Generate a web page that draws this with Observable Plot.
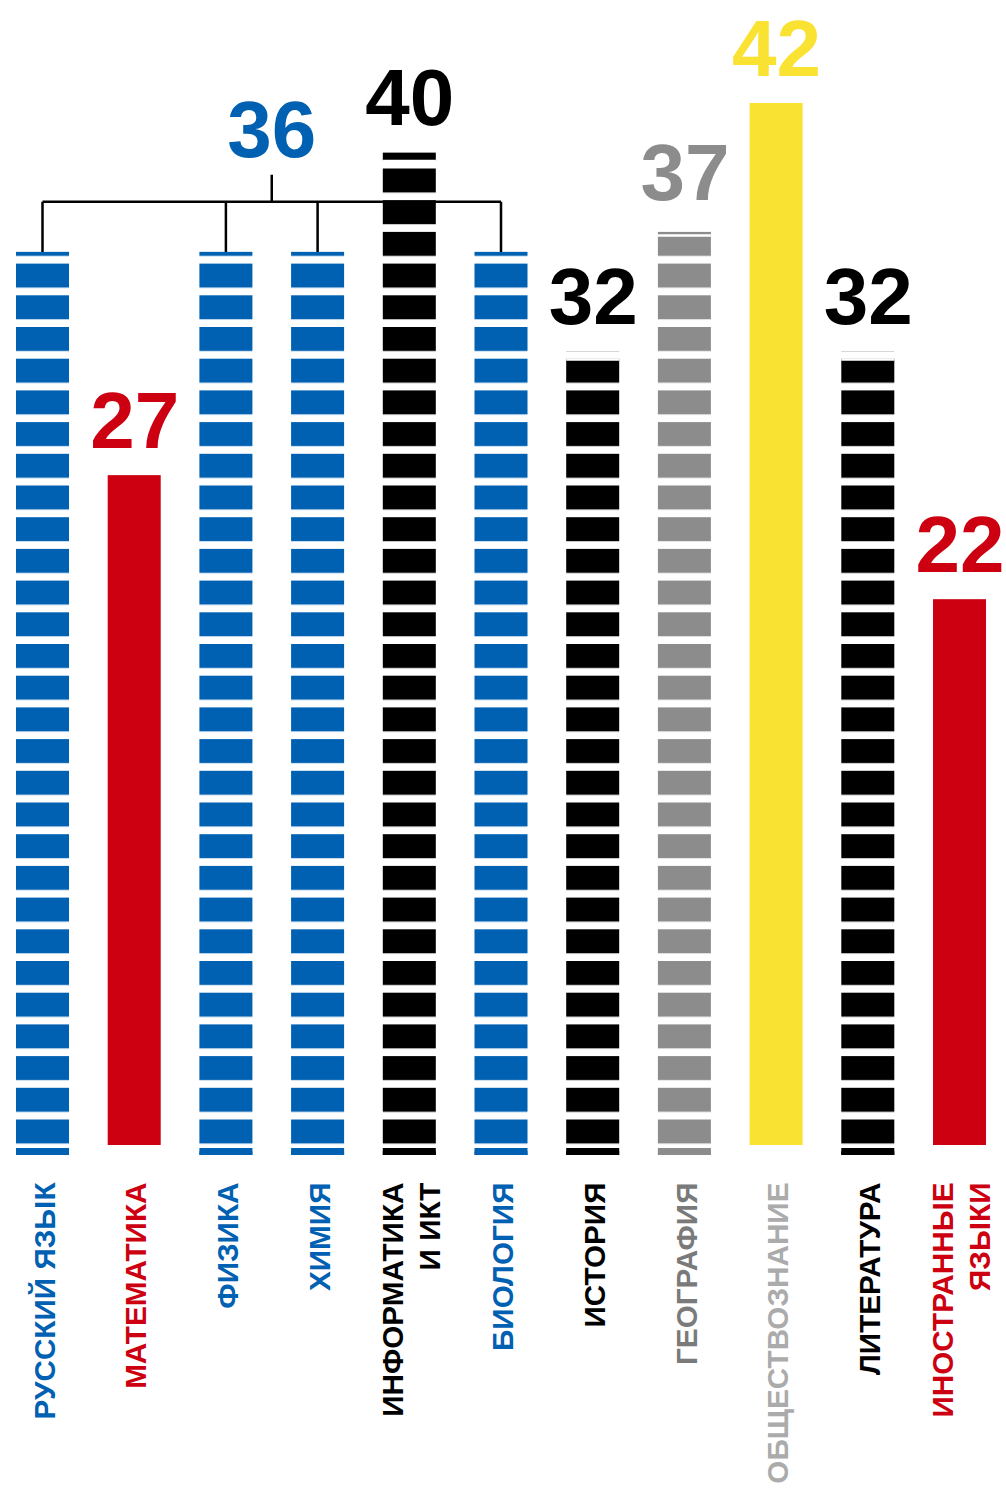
<!DOCTYPE html>
<html>
<head>
<meta charset="utf-8">
<script src="https://cdn.jsdelivr.net/npm/d3@7"></script>
<script src="https://cdn.jsdelivr.net/npm/@observablehq/plot@0.6"></script>
<style>
  html, body { margin: 0; padding: 0; background: #ffffff; }
  #chart svg { display: block; }
</style>
</head>
<body>
<div id="chart"></div>
<script>
// ---- data ----
const subjects = [
  "РУССКИЙ ЯЗЫК", "МАТЕМАТИКА", "ФИЗИКА", "ХИМИЯ", "ИНФОРМАТИКА\nИ ИКТ", "БИОЛОГИЯ",
  "ИСТОРИЯ", "ГЕОГРАФИЯ", "ОБЩЕСТВОЗНАНИЕ", "ЛИТЕРАТУРА", "ИНОСТРАННЫЕ\nЯЗЫКИ"
];
const scores = [36, 27, 36, 36, 40, 36, 32, 37, 42, 32, 22];
const barColors = [
  "#0060b2", "#cc0010", "#0060b2", "#0060b2", "#000000", "#0060b2",
  "#000000", "#8c8c8c", "#fae232", "#000000", "#cc0010"
];
const labelColors = [
  "#0060b2", "#cc0010", "#0060b2", "#0060b2", "#000000", "#0060b2",
  "#000000", "#7a7a7a", "#ababab", "#000000", "#cc0010"
];
const striped = [true, false, true, true, true, true, true, true, false, true, false];
const groupedSubjects = ["РУССКИЙ ЯЗЫК", "ФИЗИКА", "ХИМИЯ", "БИОЛОГИЯ"];
const groupScore = 36;
const groupColor = "#0060b2";

const data = subjects.map((s, i) => ({
  subject: s, score: scores[i], bar: barColors[i], label: labelColors[i],
  striped: striped[i], grouped: groupedSubjects.includes(s)
}));

// ---- layout / style ----
const W = 1006, H = 1493;
const FONT = "Arial, 'Liberation Sans', sans-serif";
const PERIOD = 31.7, SEG = 24;
const stripedColors = Array.from(new Set(data.filter(d => d.striped).map(d => d.bar)));
const patternId = c => "stripe-" + c.replace("#", "");

const ns = "http://www.w3.org/2000/svg";
function el(tag, attrs) {
  const e = document.createElementNS(ns, tag);
  for (const k in attrs) e.setAttribute(k, attrs[k]);
  return e;
}

// defs (stripe patterns) + bracket for the grouped subjects, positioned with Plot's scales
function decorations(index, scales) {
  const x = scales.x, y = scales.y;
  const bw = x.bandwidth ? x.bandwidth() : 0;
  const g = el("g", {});
  const defs = el("defs", {});
  const y0 = y(0);
  for (const c of stripedColors) {
    const p = el("pattern", {id: patternId(c), patternUnits: "userSpaceOnUse",
      x: 0, y: y0 - 1.5 - SEG, width: W, height: PERIOD});
    p.appendChild(el("rect", {x: 0, y: 0, width: W, height: SEG, fill: c}));
    defs.appendChild(p);
  }
  g.appendChild(defs);

  const yTop = y(groupScore);
  const yBr = yTop - 50, yStem = yBr - 27;
  const xs = groupedSubjects.map(s => x(s) + bw / 2);
  const xMin = Math.min(...xs), xMax = Math.max(...xs), xMid = (xMin + xMax) / 2;
  let d = `M${xMin},${yBr}H${xMax}M${xMid},${yBr}V${yStem}`;
  for (const xv of xs) d += `M${xv},${yBr}V${yTop + 2}`;
  g.appendChild(el("path", {d, fill: "none", stroke: "#000", "stroke-width": 2.5}));
  const t = el("text", {x: xMid, y: yStem - 18, "text-anchor": "middle",
    "font-size": 80, "font-weight": "bold", "font-family": FONT, fill: groupColor});
  t.textContent = String(groupScore);
  g.appendChild(t);
  return g;
}

const stripedData = data.filter(d => d.striped);
const solidData = data.filter(d => !d.striped);

const marks = [decorations];
for (const c of stripedColors) {
  marks.push(Plot.barY(stripedData.filter(d => d.bar === c), {
    x: "subject", y: "score", fill: `url(#${patternId(c)})`, insetBottom: -10
  }));
}
marks.push(
  Plot.barY(stripedData, {x: "subject", y1: 0, y2: 0, insetTop: 3, insetBottom: -10, fill: "bar"}),
  Plot.tickY(stripedData, {x: "subject", y: "score", dy: 8, stroke: "#ffffff", strokeWidth: 2.5}),
  Plot.barY(solidData, {x: "subject", y: "score", fill: "bar"}),
  Plot.text(data.filter(d => !d.grouped), {
    x: "subject", y: "score", text: d => String(d.score), dy: -28,
    lineAnchor: "bottom", fontSize: 80, fontWeight: "bold", fontFamily: FONT, fill: "bar"
  }),
  Plot.text(data, {
    x: "subject", y: 0, text: "subject", dy: 37, rotate: -90,
    textAnchor: "end", lineAnchor: "middle", lineHeight: 1.22,
    fontSize: 29.7, fontWeight: "bold", fontFamily: FONT, fill: "label"
  })
);

const chart = Plot.plot({
  width: W,
  height: H,
  marginTop: 103,
  marginBottom: H - 1145,
  marginLeft: 16,
  marginRight: 20,
  x: {domain: subjects, paddingInner: 0.422, paddingOuter: 0, round: false, axis: null},
  y: {domain: [0, 42], axis: null},
  color: {type: "identity"},
  style: {background: "#ffffff", fontFamily: FONT, overflow: "visible"},
  marks
});
document.getElementById("chart").appendChild(chart);
</script>
</body>
</html>
